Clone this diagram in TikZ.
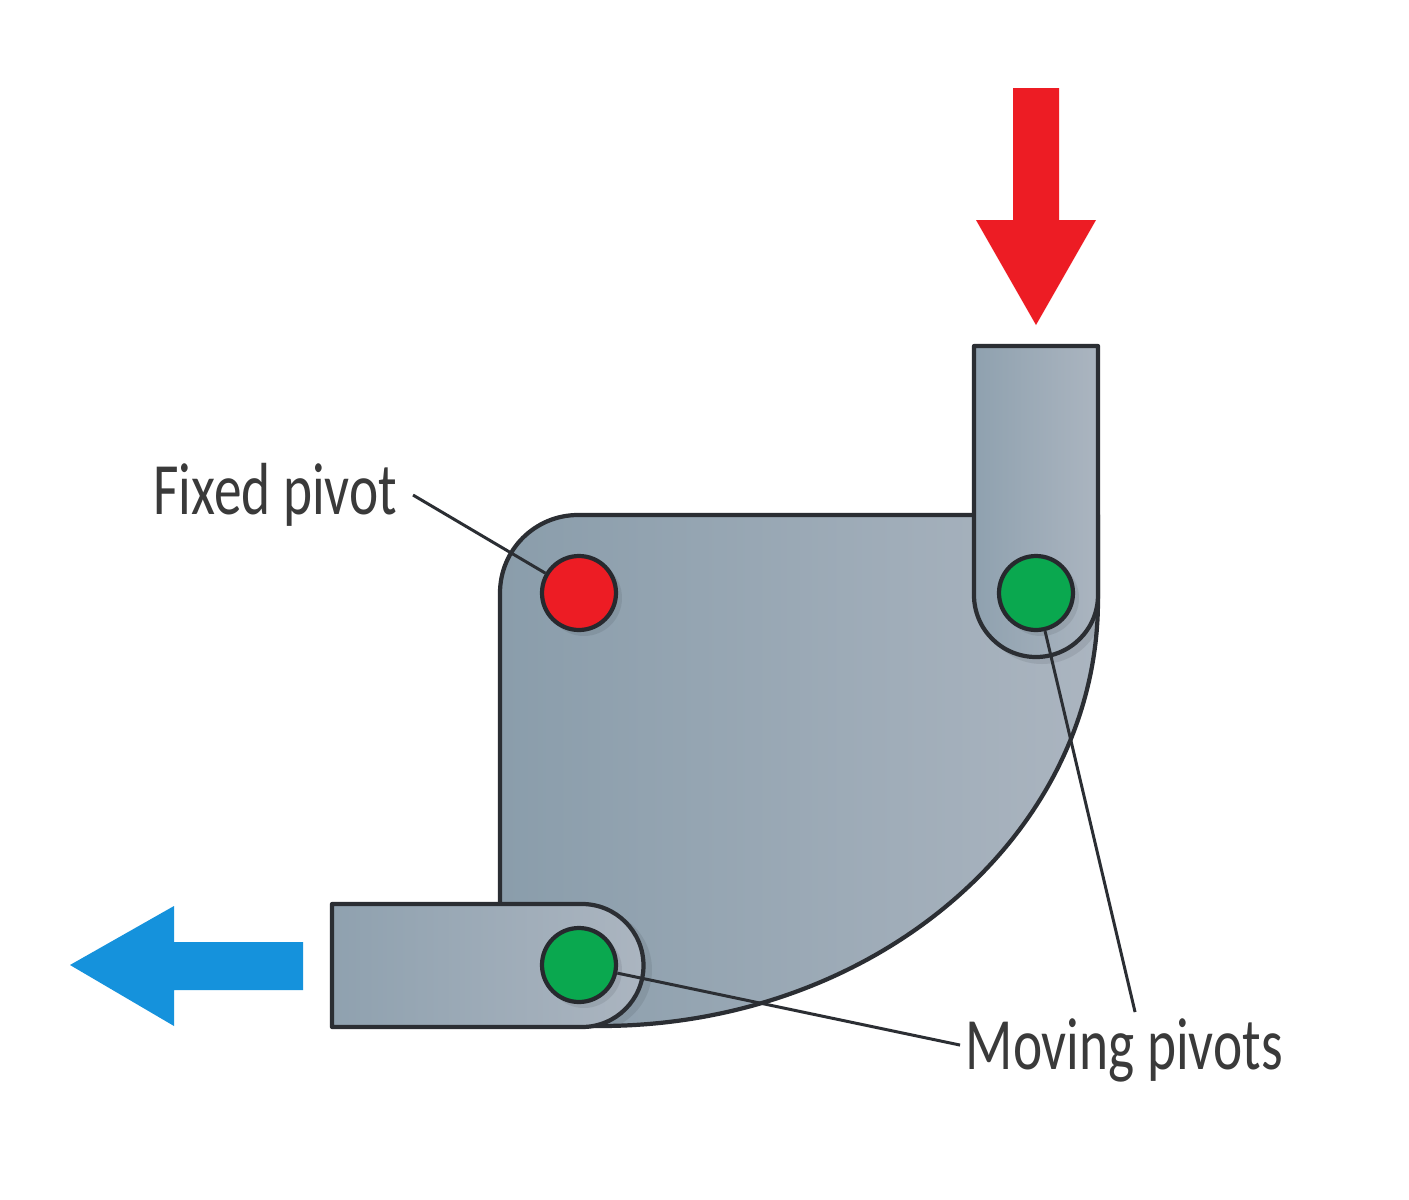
\documentclass[tikz,border=0pt]{standalone}
\usepackage{fontspec}
\setmainfont[FakeStretch=0.75]{Carlito}
\definecolor{pushred}{HTML}{ED1C24}
\definecolor{pullblue}{HTML}{1592DC}
\definecolor{pivotgreen}{HTML}{0AA84F}
\definecolor{platedark}{HTML}{8A9DAB}
\definecolor{platelight}{HTML}{ABB5C0}
\definecolor{linkdark}{HTML}{8FA1AF}
\definecolor{edgegray}{HTML}{2B2E33}
\definecolor{labelgray}{HTML}{3A3A3A}

\begin{document}
\begin{tikzpicture}[scale=0.1]
\tikzstyle{part}=[draw=edgegray, line width=1.2pt, line join=round, left color=platedark, right color=platelight]
\tikzstyle{linkpart}=[part, left color=linkdark]
\tikzstyle{softshadow}=[fill=black, opacity=0.08]
\tikzstyle{pivot}=[circle, draw=edgegray!90!black, line width=1.2pt, minimum size=7.4mm, inner sep=0pt]
\tikzstyle{callout}=[text=labelgray, font=\fontsize{21}{21}\selectfont, inner sep=1mm]
\tikzstyle{leader}=[edgegray, line width=0.85pt]
\useasboundingbox (0,0) rectangle (140.9,-120);
\fill [white] (0,0) rectangle (140.9,-120);
% force arrows
\fill [pushred] (101.3,-8.8) -- (105.9,-8.8) -- (105.9,-22) -- (109.6,-22) -- (103.6,-32.5) -- (97.6,-22) -- (101.3,-22) -- cycle;
\fill [pullblue] (30.3,-94.2) -- (30.3,-99) -- (17.4,-99) -- (17.4,-102.6) -- (7,-96.5) -- (17.4,-90.6) -- (17.4,-94.2) -- cycle;
% plate
\draw [part] (50,-59.3) arc [start angle=180, end angle=90, radius=7.8] -- (109.8,-51.5) -- (109.8,-60) arc [start angle=0, end angle=-90, x radius=49.8, y radius=42.6] -- (50,-102.6) -- cycle;
% soft shadows on the plate
\begin{scope}
\clip (97,-55) rectangle (109.5,-67);
\fill [softshadow] (104.2,-60.2) circle (6.2);
\end{scope}
\begin{scope}
\clip (58,-89) rectangle (66,-102.4);
\fill [softshadow] (59,-97) circle (6.2);
\end{scope}
% links
\draw [linkpart] (97.4,-34.6) -- (109.8,-34.6) -- (109.8,-59.5) arc [start angle=0, end angle=-180, radius=6.2] -- cycle;
\draw [linkpart] (33.2,-90.4) -- (58.2,-90.4) arc [start angle=90, end angle=-90, radius=6.15] -- (33.2,-102.7) -- cycle;
% pivots
\fill [softshadow] (58.4,-59.8) circle (3.8);
\fill [softshadow] (104.1,-59.8) circle (3.8);
\fill [softshadow] (58.4,-97) circle (3.8);
\node [pivot, fill=pushred] (fixedpivot) at (57.9,-59.3) {};
\node [pivot, fill=pivotgreen] (upperpivot) at (103.6,-59.3) {};
\node [pivot, fill=pivotgreen] (lowerpivot) at (57.9,-96.5) {};
% labels
\node [callout, anchor=east, inner sep=1.5mm] (fixedlabel) at (41.3,-49.5) {Fixed pivot};
\node [callout, anchor=west] (movinglabel) at (95.5,-105) {Moving pivots};
\coordinate (movingtop) at (113.5,-101.2);
\coordinate (movingleft) at (96,-104.5);
\draw [leader] (fixedlabel.east) -- (fixedpivot);
\draw [leader] (movingtop) -- (upperpivot);
\draw [leader] (movingleft) -- (lowerpivot);
\end{tikzpicture}
\end{document}
